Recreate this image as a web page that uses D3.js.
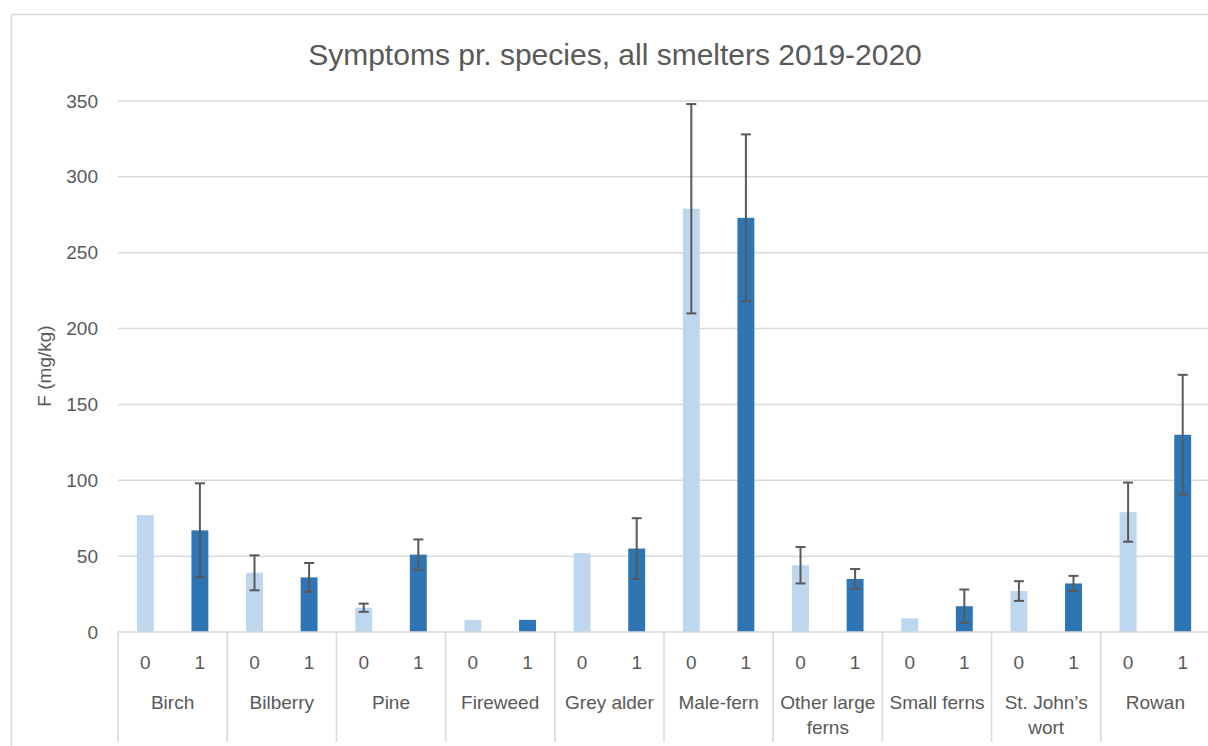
<!DOCTYPE html>
<html>
<head>
<meta charset="utf-8">
<script src="https://cdn.jsdelivr.net/npm/d3@7"></script>
<style>
  html, body { margin: 0; padding: 0; background: #fff; }
  svg { display: block; font-family: "Liberation Sans", Arial, sans-serif; }
</style>
</head>
<body>
<svg id="chart" width="1208" height="746"></svg>
<script>
// ---- data ----
const title = "Symptoms pr. species, all smelters 2019-2020";
const yLabel = "F (mg/kg)";
const categories = ["Birch", "Bilberry", "Pine", "Fireweed", "Grey alder", "Male-fern", "Other large ferns", "Small ferns", "St. John’s wort", "Rowan"];
const seriesKeys = ["0", "1"];
const values0 = [77, 39, 16, 8, 52, 279, 44, 9, 27, 79];
const values1 = [67, 36, 51, 8, 55, 273, 35, 17, 32, 130];
const err0 = [null, 11.5, 2.7, null, null, 69, 12, null, 6.5, 19.5];
const err1 = [31, 9.5, 10, null, 20, 55, 6.5, 11, 5, 39.5];
const yTicks = [0, 50, 100, 150, 200, 250, 300, 350];

const colors = { "0": "#BDD7EE", "1": "#2E75B6" };
const textColor = "#595959";
const gridColor = "#d9d9d9";

const svg = d3.select("#chart");
const plot = { left: 118, right: 1210, top: 101, bottom: 632 };

// chart border
svg.append("rect")
  .attr("x", 11.5).attr("y", 14.5)
  .attr("width", 1400).attr("height", 900)
  .attr("fill", "#fff").attr("stroke", gridColor).attr("stroke-width", 1.5);

const y = d3.scaleLinear().domain([0, 350]).range([plot.bottom, plot.top]);
const x0 = d3.scaleBand().domain(categories).range([plot.left, plot.right]).padding(0);
const x1 = d3.scaleBand().domain(seriesKeys).range([0, x0.bandwidth()]).paddingInner(0.69).paddingOuter(0.345);

// title
svg.append("text")
  .attr("x", 615).attr("y", 65)
  .attr("text-anchor", "middle")
  .attr("fill", textColor)
  .style("font-size", "30px")
  .text(title);

// gridlines
svg.append("g").selectAll("line")
  .data(yTicks.filter(d => d !== 0))
  .join("line")
  .attr("x1", plot.left).attr("x2", plot.right)
  .attr("y1", d => y(d)).attr("y2", d => y(d))
  .attr("stroke", gridColor).attr("stroke-width", 1.5);

// y tick labels
const yAxis = d3.axisLeft(y).tickValues(yTicks).tickSize(0).tickPadding(20);
const gy = svg.append("g").attr("transform", `translate(${plot.left},0)`).call(yAxis);
gy.select(".domain").remove();
gy.selectAll("text").attr("fill", textColor).style("font-size", "19px")
  .style("font-family", '"Liberation Sans", Arial, sans-serif');

// y label
svg.append("text")
  .attr("transform", `translate(51,366) rotate(-90)`)
  .attr("text-anchor", "middle")
  .attr("fill", textColor)
  .style("font-size", "19px")
  .text(yLabel);

// data rows
const rows = categories.map((c, i) => ({
  cat: c,
  items: [
    { key: "0", v: values0[i], e: err0[i] },
    { key: "1", v: values1[i], e: err1[i] }
  ]
}));

const groups = svg.append("g").selectAll("g")
  .data(rows).join("g")
  .attr("transform", d => `translate(${x0(d.cat)},0)`);

groups.selectAll("rect")
  .data(d => d.items).join("rect")
  .attr("x", d => x1(d.key))
  .attr("width", x1.bandwidth())
  .attr("y", d => y(d.v))
  .attr("height", d => y(0) - y(d.v))
  .attr("fill", d => colors[d.key]);

// error bars
const eb = groups.selectAll("g.err")
  .data(d => d.items.filter(it => it.e != null)).join("g").attr("class", "err");
const cx = d => x1(d.key) + x1.bandwidth() / 2;
eb.append("line")
  .attr("x1", cx).attr("x2", cx)
  .attr("y1", d => y(d.v + d.e)).attr("y2", d => y(d.v - d.e))
  .attr("stroke", "#595959").attr("stroke-width", 2);
eb.selectAll("line.cap")
  .data(d => [{ d, t: d.v + d.e }, { d, t: d.v - d.e }]).join("line").attr("class", "cap")
  .attr("x1", o => cx(o.d) - 5).attr("x2", o => cx(o.d) + 5)
  .attr("y1", o => y(o.t)).attr("y2", o => y(o.t))
  .attr("stroke", "#595959").attr("stroke-width", 2);

// x axis baseline
svg.append("line")
  .attr("x1", plot.left).attr("x2", plot.right)
  .attr("y1", y(0)).attr("y2", y(0))
  .attr("stroke", gridColor).attr("stroke-width", 1.5);

// group separators
const seps = categories.map(c => x0(c)).concat([plot.right]);
svg.append("g").selectAll("line")
  .data(seps).join("line")
  .attr("x1", d => d).attr("x2", d => d)
  .attr("y1", y(0)).attr("y2", 742)
  .attr("stroke", gridColor).attr("stroke-width", 1.5);

// series tick labels
groups.selectAll("text.tick")
  .data(seriesKeys).join("text").attr("class", "tick")
  .attr("x", k => x1(k) + x1.bandwidth() / 2)
  .attr("y", 669)
  .attr("text-anchor", "middle")
  .attr("fill", textColor)
  .style("font-size", "19px")
  .text(k => k);

// category labels with wrapping
groups.append("text")
  .attr("class", "cat")
  .attr("text-anchor", "middle")
  .attr("fill", textColor)
  .style("font-size", "19px")
  .each(function(d) {
    const t = d3.select(this);
    const maxW = x0.bandwidth() - 8;
    const words = d.cat.split(" ");
    let lines = [], cur = [];
    const tmp = t.append("tspan");
    words.forEach(w => {
      const trial = cur.concat([w]).join(" ");
      tmp.text(trial);
      if (tmp.node().getComputedTextLength() > maxW && cur.length) {
        lines.push(cur.join(" "));
        cur = [w];
      } else cur.push(w);
    });
    lines.push(cur.join(" "));
    tmp.remove();
    lines.forEach((ln, i) => {
      t.append("tspan")
        .attr("x", x0.bandwidth() / 2)
        .attr("y", 709 + i * 25)
        .text(ln);
    });
  });
</script>
</body>
</html>
